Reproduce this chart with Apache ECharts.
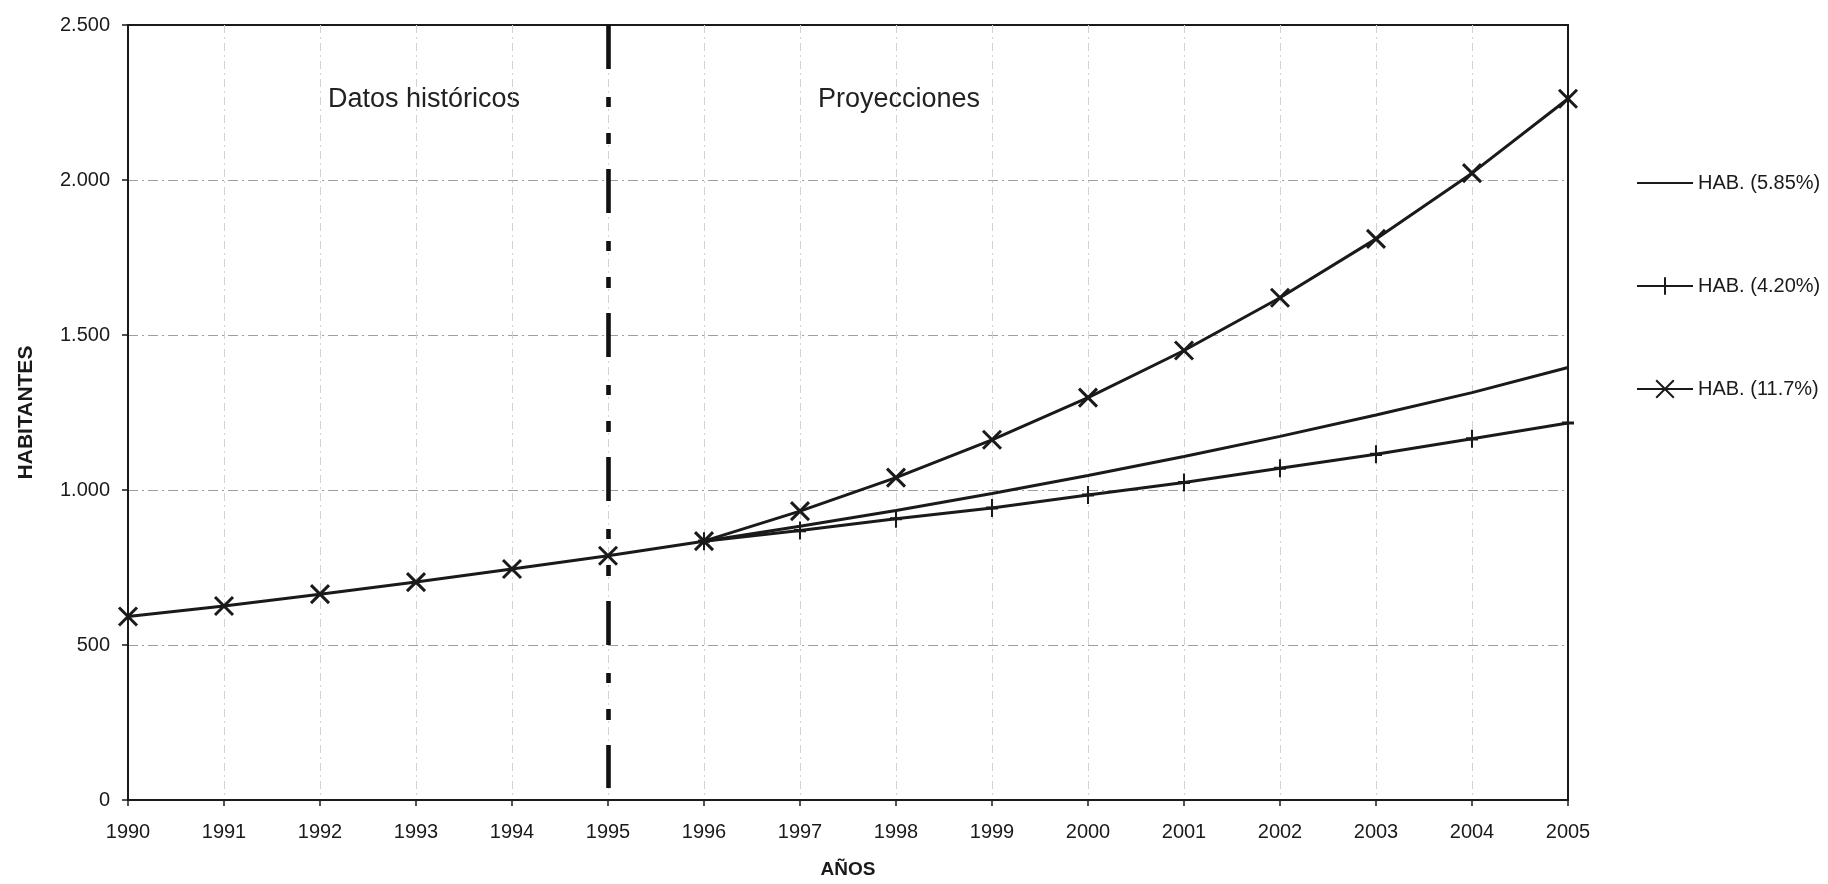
<!DOCTYPE html>
<html>
<head>
<meta charset="utf-8">
<script src="https://cdn.jsdelivr.net/npm/echarts@6/dist/echarts.min.js"></script>
<style>
  html, body { margin: 0; padding: 0; background: #fff; }
  #chart { width: 1828px; height: 884px; }
</style>
</head>
<body>
<div id="chart"></div>
<script>
// Años del eje horizontal
const years = ['1990','1991','1992','1993','1994','1995','1996','1997','1998',
               '1999','2000','2001','2002','2003','2004','2005'];
// Datos históricos de habitantes (1990-1996)
const historico = [592, 626, 664, 703, 745, 788, 835];
// Proyecciones 1997-2005 según tasa de crecimiento
const proy117 = [932, 1040, 1162, 1298, 1450, 1620, 1810, 2022, 2262];
const proy585 = [883, 934, 989, 1047, 1108, 1173, 1242, 1314, 1395];
const proy420 = [869, 907, 942, 984, 1024, 1070, 1115, 1165, 1216];
// Marcas del eje vertical
const yTicks = [0, 500, 1000, 1500, 2000, 2500];
const seriesNames = ['HAB. (5.85%)', 'HAB. (4.20%)', 'HAB. (11.7%)'];
const corte = '1995';

const pad = (n) => Array(n).fill(null);
const ultimo = historico[historico.length - 1];
const s117 = historico.concat(proy117);
const s585 = pad(historico.length - 1).concat([ultimo], proy585);
const s420 = pad(historico.length - 1).concat([ultimo], proy420);

const FONT = "'Liberation Sans', Arial, sans-serif";
const INK = '#1a1a1a';
const xMark = 'path://M0,0L10,10M10,0L0,10';
const plusMark = 'path://M5,0L5,10M0,5L10,5';
// marcador vacío (sin área ni trazo) para la serie sin símbolos
const noMark = 'path://M0,0L10,0M0,10L10,10';
const miles = (v) => String(v).replace(/\B(?=(\d{3})+(?!\d))/g, '.');

const chart = echarts.init(document.getElementById('chart'), null, { renderer: 'canvas' });
chart.setOption({
  backgroundColor: '#ffffff',
  animation: false,
  textStyle: { fontFamily: FONT, color: INK },
  grid: {
    left: 128, right: 260, top: 25, bottom: 83,
    show: true, borderColor: INK, borderWidth: 2, backgroundColor: 'transparent'
  },
  legend: {
    orient: 'vertical',
    left: 1631, top: 168,
    itemWidth: 56, itemHeight: 22, itemGap: 83,
    textStyle: { fontFamily: FONT, fontSize: 20, color: INK },
    data: seriesNames
  },
  xAxis: {
    type: 'category',
    data: years,
    boundaryGap: false,
    name: 'AÑOS',
    nameLocation: 'middle',
    nameGap: 60,
    nameTextStyle: { fontFamily: FONT, fontSize: 19, fontWeight: 'bold', color: INK },
    axisLine: { lineStyle: { color: INK, width: 2 } },
    axisTick: { show: true, length: 6, lineStyle: { color: INK, width: 1.5 } },
    axisLabel: { fontFamily: FONT, fontSize: 20, color: INK, margin: 22 },
    splitLine: {
      show: true, showMinLine: false, showMaxLine: false,
      lineStyle: { color: '#d2d2d2', width: 1, type: [8, 4, 2, 4] }
    }
  },
  yAxis: {
    type: 'value',
    min: yTicks[0], max: yTicks[yTicks.length - 1], interval: yTicks[1] - yTicks[0],
    name: 'HABITANTES',
    nameLocation: 'middle',
    nameGap: 91,
    nameRotate: 90,
    nameTextStyle: { fontFamily: FONT, fontSize: 21, fontWeight: 'bold', color: INK },
    axisLine: { show: true, lineStyle: { color: INK, width: 2 } },
    axisTick: { show: true, length: 6, lineStyle: { color: INK, width: 1.5 } },
    axisLabel: { fontFamily: FONT, fontSize: 20, color: INK, margin: 18, formatter: miles },
    splitLine: {
      show: true, showMinLine: false, showMaxLine: false,
      lineStyle: { color: '#9e9e9e', width: 1, type: [10, 4, 2, 4] }
    }
  },
  graphic: [
    { type: 'text', left: 328, top: 86, style: { text: 'Datos históricos', font: "27px 'Liberation Sans', Arial", fill: '#222' } },
    { type: 'text', left: 818, top: 86, style: { text: 'Proyecciones', font: "27px 'Liberation Sans', Arial", fill: '#222' } }
  ],
  series: [
    {
      name: seriesNames[0], type: 'line', data: s585,
      symbol: noMark, symbolSize: 10, showSymbol: false, z: 3,
      lineStyle: { color: INK, width: 3 },
      itemStyle: { color: 'rgba(0,0,0,0)', borderWidth: 0 }
    },
    {
      name: seriesNames[1], type: 'line', data: s420,
      symbol: plusMark, symbolSize: [12, 18], showSymbol: true, z: 4,
      lineStyle: { color: INK, width: 3 },
      itemStyle: { color: INK, borderColor: INK, borderWidth: 2.5 }
    },
    {
      name: seriesNames[2], type: 'line', data: s117,
      symbol: xMark, symbolSize: 18, showSymbol: true, z: 5,
      lineStyle: { color: INK, width: 3 },
      itemStyle: { color: INK, borderColor: INK, borderWidth: 3 },
      markLine: {
        silent: true, symbol: 'none', label: { show: false },
        lineStyle: { color: '#111', width: 4.6, type: [44, 28, 10, 26, 11, 25] },
        data: [[ { coord: [corte, yTicks[yTicks.length - 1]] }, { coord: [corte, 39] } ]]
      }
    }
  ]
});
</script>
</body>
</html>
